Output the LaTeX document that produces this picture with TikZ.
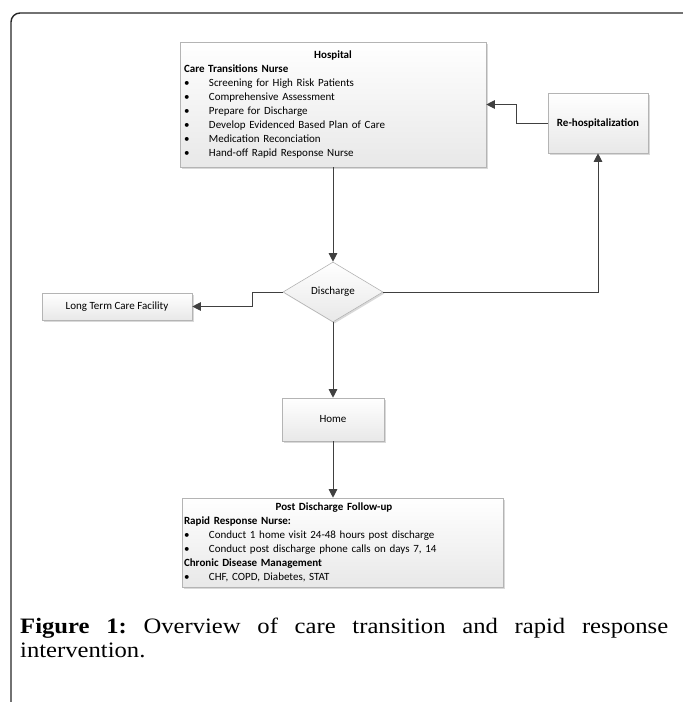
\documentclass[tikz,border=0pt]{standalone}
\usepackage{fontspec}
\setmainfont{Carlito}
\newfontfamily\capfont[FakeStretch=1.12]{Liberation Serif}
\usetikzlibrary{arrows.meta,shapes.geometric,shadows,calc}
\definecolor{arrowgray}{HTML}{404040}
\definecolor{boxborder}{HTML}{B4B4B4}
\definecolor{framecol}{HTML}{262626}
\newcommand\bul{\makebox[25pt][l]{\textbullet}}
\frenchspacing
\begin{document}
\begin{tikzpicture}[x=1pt,y=-1pt,
  box/.style={draw=boxborder, line width=0.6pt, top color=white, bottom color=black!9,
    drop shadow={opacity=0.3, shadow xshift=1.5pt, shadow yshift=-1.5pt, fill=black!50},
    font=\fontsize{11}{14}\selectfont, inner sep=0pt},
  arr/.style={draw=arrowgray, line width=1pt, -{Triangle[length=8.5pt,width=8.5pt]}},
  captext/.style={anchor=base west, inner sep=0pt, font=\capfont\fontsize{22}{24}\selectfont\frenchspacing}
]
\useasboundingbox (0,0) rectangle (683,702);
\draw[line width=1.4pt, framecol, rounded corners=9pt] (11,702) -- (11,13) -- (683,13);

\node[box, minimum width=306pt, minimum height=125pt, text width=298pt, align=left] (hosp) at (333,104.5)
 {\makebox[298pt][c]{\bfseries Hospital}\\
  \textbf{Care Transitions Nurse}\\
  \bul Screening for High Risk Patients\\
  \bul Comprehensive Assessment\\
  \bul Prepare for Discharge\\
  \bul Develop Evidenced Based Plan of Care\\
  \bul Medication Reconciation\\
  \bul Hand-off Rapid Response Nurse};

\node[box, minimum width=100pt, minimum height=60pt, font=\fontsize{11}{14}\selectfont\bfseries] (rehosp) at (598,123) {Re-hospitalization};

\node[box, shape=diamond, shape aspect=1.667, minimum width=100pt, minimum height=60pt] (dis) at (333,292) {Discharge};

\node[box, minimum width=150pt, minimum height=27pt] (ltc) at (117,306.5) {Long Term Care Facility};

\node[box, minimum width=102pt, minimum height=43pt] (home) at (333,419.5) {Home};

\node[box, minimum width=321pt, minimum height=89pt, text width=317pt, align=left] (post) at (342.5,542.5)
 {\makebox[300pt][c]{\bfseries Post Discharge Follow-up}\\
  \textbf{Rapid Response Nurse:}\\
  \bul Conduct 1 home visit 24-48 hours post discharge\\
  \bul Conduct post discharge phone calls on days 7, 14\\
  \textbf{Chronic Disease Management}\\
  \bul CHF, COPD, Diabetes, STAT};

\draw[arr] (hosp.south) -- (dis.north);
\draw[arr] (dis.west) -- ++(-30,0) |- (ltc.east);
\draw[arr] (dis.east) -| (rehosp.south);
\draw[arr] (rehosp.west) -- ++(-31,0) |- (hosp.east);
\draw[arr] (dis.south) -- (home.north);
\draw[arr] (home.south) -- (home.south |- post.north);

\node[captext] (cap1) at (20,633) {\makebox[648pt][l]{\textbf{Figure}\hfill\textbf{1:}\hfill Overview\hfill of\hfill care\hfill transition\hfill and\hfill rapid\hfill response}};
\node[captext] (cap2) at (20,657) {intervention.};
\end{tikzpicture}
\end{document}
